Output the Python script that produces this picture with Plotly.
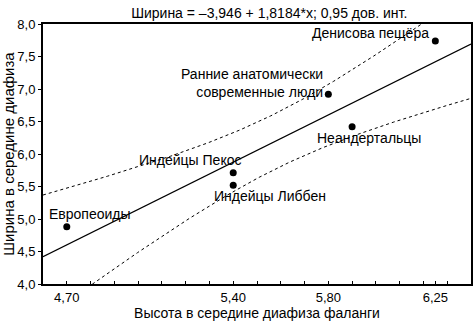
import numpy as np
import plotly.graph_objects as go

# ---- data ----
groups = ["Европеоиды", "Индейцы Пекос", "Индейцы Либбен",
          "Ранние анатомически<br>современные люди", "Неандертальцы", "Денисова пещёра"]
height_mid = [4.70, 5.40, 5.40, 5.80, 5.90, 6.25]     # x: высота в середине диафиза
width_mid = [4.88, 5.71, 5.52, 6.92, 6.42, 7.74]      # y: ширина в середине диафиза
x_tick_vals = [4.70, 5.40, 5.80, 6.25]
y_tick_vals = [4.0, 4.5, 5.0, 5.5, 6.0, 6.5, 7.0, 7.5, 8.0]
INTERCEPT = -3.946
SLOPE = 1.8184
T_95_DF4 = 2.7764  # Student t, 0.975 quantile, n-2 = 4 df

X_RANGE = [4.6, 6.4]
Y_RANGE = [4.0, 8.0]

x = np.array(height_mid)
y = np.array(width_mid)
n = len(x)
xbar = x.mean()
sxx = ((x - xbar) ** 2).sum()
resid = y - (INTERCEPT + SLOPE * x)
s = np.sqrt((resid ** 2).sum() / (n - 2))

xg = np.linspace(X_RANGE[0], X_RANGE[1], 300)
yhat = INTERCEPT + SLOPE * xg
hw = T_95_DF4 * s * np.sqrt(1.0 / n + (xg - xbar) ** 2 / sxx)

FONT = "Liberation Sans, Arial, sans-serif"

fig = go.Figure()
fig.add_trace(go.Scatter(x=xg, y=yhat, mode="lines",
                         line=dict(color="black", width=1.2), hoverinfo="skip"))
fig.add_trace(go.Scatter(x=xg, y=yhat + hw, mode="lines",
                         line=dict(color="black", width=1, dash="dot"), hoverinfo="skip"))
fig.add_trace(go.Scatter(x=xg, y=yhat - hw, mode="lines",
                         line=dict(color="black", width=1, dash="dot"), hoverinfo="skip"))
fig.add_trace(go.Scatter(x=height_mid, y=width_mid, mode="markers",
                         marker=dict(color="black", size=7), text=groups))

# label offsets (pixels) relative to each point: (xanchor, xshift, yshift)
label_pos = [("left", -20, 13), ("right", 10, 13), ("left", -21, -11),
             ("right", -3, 11), ("center", 17, -11), ("right", -4, 8)]
for gx, gy, gname, (xa, xs, ys) in zip(height_mid, width_mid, groups, label_pos):
    fig.add_annotation(x=gx, y=gy, text=gname, showarrow=False, xanchor=xa,
                       yanchor="middle", xshift=xs, yshift=ys, align="right",
                       font=dict(family=FONT, size=14, color="black"))

fig.update_layout(
    width=473, height=322,
    margin=dict(l=43, r=2, t=24, b=38, autoexpand=False),
    paper_bgcolor="white", plot_bgcolor="white",
    showlegend=False,
    separators=", ",
    font=dict(family=FONT, size=13, color="black"),
    title=dict(text="Ширина = –3,946 + 1,8184*x; 0,95 дов. инт.",
               x=250 / 473, xanchor="center", xref="paper",
               y=1 - 13 / 322, yanchor="middle", yref="container",
               font=dict(family=FONT, size=14, color="black")),
)
fig.update_xaxes(
    range=X_RANGE, tickvals=x_tick_vals, tickformat=".2f", automargin=False,
    showgrid=False, zeroline=False, showline=True, linecolor="black", linewidth=2,
    mirror=True, ticks="inside", ticklen=3, tickcolor="black",
    minor=dict(dtick=0.1, tick0=4.6, ticks="inside", ticklen=3, tickcolor="black"),
    tickfont=dict(family=FONT, size=13),
    title=dict(text="Высота в середине диафиза фаланги", standoff=0,
               font=dict(family=FONT, size=14)),
)
fig.update_yaxes(
    range=Y_RANGE, tickvals=y_tick_vals, tickformat=".1f", automargin=False,
    showgrid=False, zeroline=False, showline=True, linecolor="black", linewidth=2,
    mirror=True, ticks="outside", ticklen=3, tickcolor="black",
    tickfont=dict(family=FONT, size=13),
    title=dict(text="Ширина в середине диафиза", standoff=0,
               font=dict(family=FONT, size=15)),
)

fig.write_html("out.html", config={"displayModeBar": False},
               post_script="document.body.style.margin='0';document.body.style.overflow='hidden';")
